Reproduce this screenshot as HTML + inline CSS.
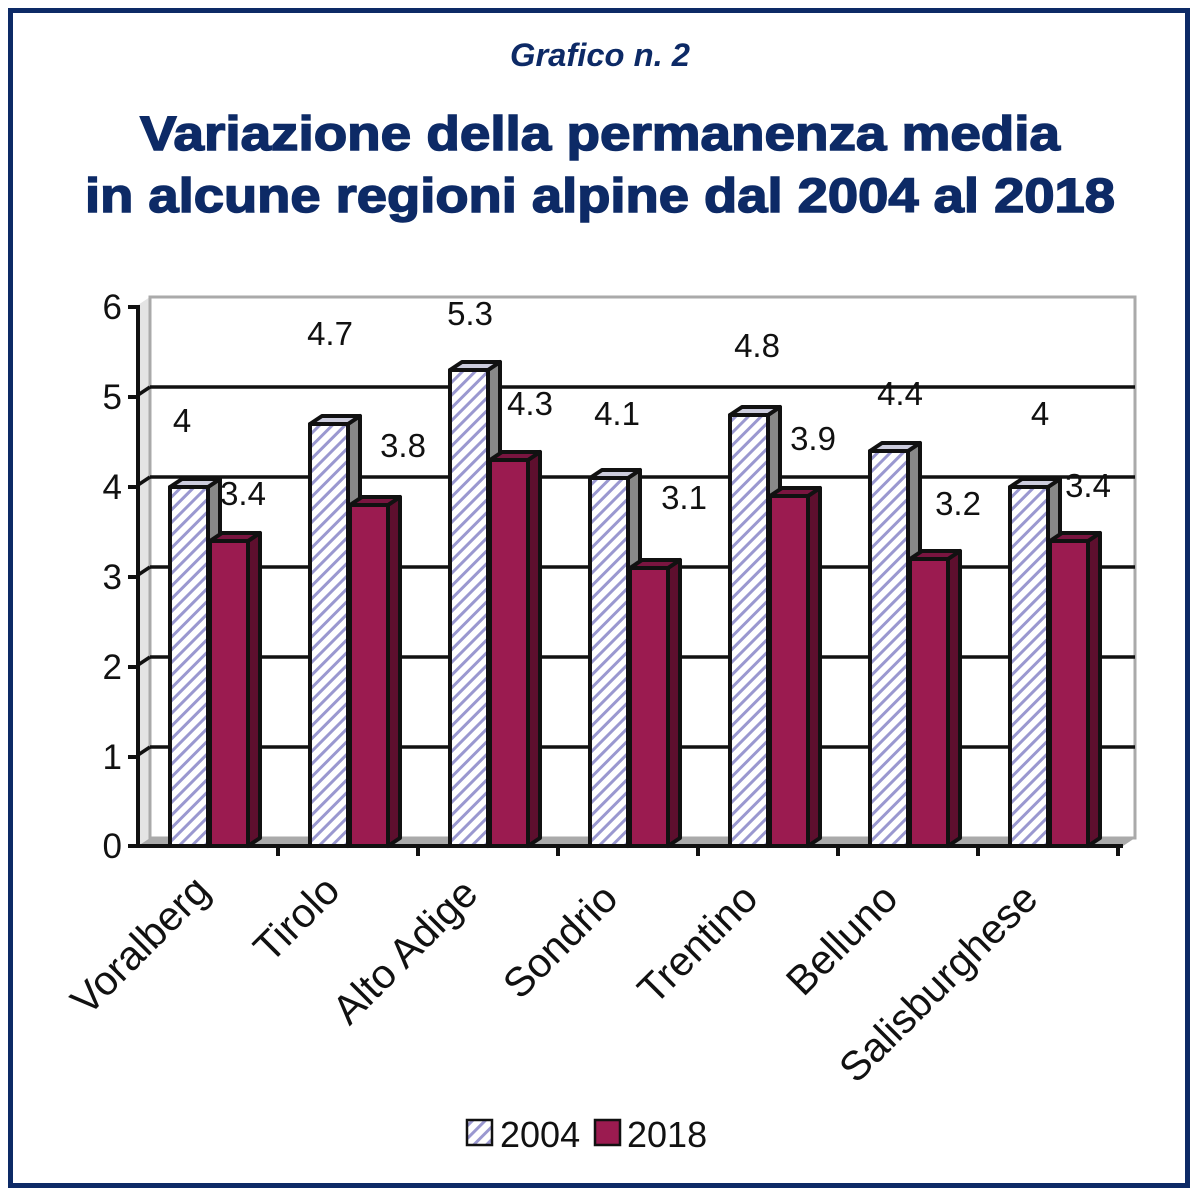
<!DOCTYPE html>
<html><head><meta charset="utf-8"><style>html,body{margin:0;padding:0;background:#fff}svg{display:block}</style></head>
<body>
<svg width="1200" height="1197" viewBox="0 0 1200 1197" xmlns="http://www.w3.org/2000/svg" font-family="Liberation Sans, sans-serif">
<defs>
<pattern id="p" width="9" height="9" patternUnits="userSpaceOnUse" patternTransform="rotate(45)">
<rect width="9" height="9" fill="#fff"/>
<rect x="0" y="0" width="3" height="9" fill="#9a98d0"/>
</pattern>
</defs>
<rect x="10.5" y="10.5" width="1177" height="1175" fill="#fff" stroke="#0d2a66" stroke-width="5"/>
<text x="600" y="66" text-anchor="middle" font-size="32" font-weight="bold" font-style="italic" fill="#0d2a66" textLength="180" lengthAdjust="spacingAndGlyphs">Grafico n. 2</text>
<g fill="#0d2a66" stroke="#0d2a66" stroke-width="1.5">
<text x="600" y="150" text-anchor="middle" font-size="48" font-weight="bold" textLength="920" lengthAdjust="spacingAndGlyphs">Variazione della permanenza media</text>
<text x="600" y="212" text-anchor="middle" font-size="48" font-weight="bold" textLength="1030" lengthAdjust="spacingAndGlyphs">in alcune regioni alpine dal 2004 al 2018</text>
</g>
<polygon points="138,846 150,838 150,297 138,305" fill="#e4e4e4"/>
<rect x="150" y="297" width="985" height="541" fill="#fff" stroke="#aaa" stroke-width="3"/>
<polygon points="138,846 150,838 1135,838 1123,846" fill="#aaa"/>
<g stroke="#111" stroke-width="3.5">
<line x1="150" y1="387" x2="1135" y2="387"/>
<line x1="150" y1="477" x2="1135" y2="477"/>
<line x1="150" y1="567" x2="1135" y2="567"/>
<line x1="150" y1="657" x2="1135" y2="657"/>
<line x1="150" y1="747" x2="1135" y2="747"/>
<line x1="138" y1="395" x2="150" y2="387"/>
<line x1="138" y1="485" x2="150" y2="477"/>
<line x1="138" y1="575" x2="150" y2="567"/>
<line x1="138" y1="665" x2="150" y2="657"/>
<line x1="138" y1="755" x2="150" y2="747"/>
</g>
<g stroke="#111" stroke-width="4" stroke-linejoin="round">
<g transform="translate(170,0)"><polygon points="38,487 50,479 50,838 38,846" fill="#888"/><polygon points="0,487 12,479 50,479 38,487" fill="#ccd"/><rect x="0" y="487" width="38" height="359" fill="url(#p)"/></g>
<g transform="translate(210,0)"><polygon points="38,541 50,533 50,838 38,846" fill="#5e0f2e"/><polygon points="0,541 12,533 50,533 38,541" fill="#7a1540"/><rect x="0" y="541" width="38" height="305" fill="#9b1b50"/></g>
<g transform="translate(310,0)"><polygon points="38,424 50,416 50,838 38,846" fill="#888"/><polygon points="0,424 12,416 50,416 38,424" fill="#ccd"/><rect x="0" y="424" width="38" height="422" fill="url(#p)"/></g>
<g transform="translate(350,0)"><polygon points="38,505 50,497 50,838 38,846" fill="#5e0f2e"/><polygon points="0,505 12,497 50,497 38,505" fill="#7a1540"/><rect x="0" y="505" width="38" height="341" fill="#9b1b50"/></g>
<g transform="translate(450,0)"><polygon points="38,370 50,362 50,838 38,846" fill="#888"/><polygon points="0,370 12,362 50,362 38,370" fill="#ccd"/><rect x="0" y="370" width="38" height="476" fill="url(#p)"/></g>
<g transform="translate(490,0)"><polygon points="38,460 50,452 50,838 38,846" fill="#5e0f2e"/><polygon points="0,460 12,452 50,452 38,460" fill="#7a1540"/><rect x="0" y="460" width="38" height="386" fill="#9b1b50"/></g>
<g transform="translate(590,0)"><polygon points="38,478 50,470 50,838 38,846" fill="#888"/><polygon points="0,478 12,470 50,470 38,478" fill="#ccd"/><rect x="0" y="478" width="38" height="368" fill="url(#p)"/></g>
<g transform="translate(630,0)"><polygon points="38,568 50,560 50,838 38,846" fill="#5e0f2e"/><polygon points="0,568 12,560 50,560 38,568" fill="#7a1540"/><rect x="0" y="568" width="38" height="278" fill="#9b1b50"/></g>
<g transform="translate(730,0)"><polygon points="38,415 50,407 50,838 38,846" fill="#888"/><polygon points="0,415 12,407 50,407 38,415" fill="#ccd"/><rect x="0" y="415" width="38" height="431" fill="url(#p)"/></g>
<g transform="translate(770,0)"><polygon points="38,496 50,488 50,838 38,846" fill="#5e0f2e"/><polygon points="0,496 12,488 50,488 38,496" fill="#7a1540"/><rect x="0" y="496" width="38" height="350" fill="#9b1b50"/></g>
<g transform="translate(870,0)"><polygon points="38,451 50,443 50,838 38,846" fill="#888"/><polygon points="0,451 12,443 50,443 38,451" fill="#ccd"/><rect x="0" y="451" width="38" height="395" fill="url(#p)"/></g>
<g transform="translate(910,0)"><polygon points="38,559 50,551 50,838 38,846" fill="#5e0f2e"/><polygon points="0,559 12,551 50,551 38,559" fill="#7a1540"/><rect x="0" y="559" width="38" height="287" fill="#9b1b50"/></g>
<g transform="translate(1010,0)"><polygon points="38,487 50,479 50,838 38,846" fill="#888"/><polygon points="0,487 12,479 50,479 38,487" fill="#ccd"/><rect x="0" y="487" width="38" height="359" fill="url(#p)"/></g>
<g transform="translate(1050,0)"><polygon points="38,541 50,533 50,838 38,846" fill="#5e0f2e"/><polygon points="0,541 12,533 50,533 38,541" fill="#7a1540"/><rect x="0" y="541" width="38" height="305" fill="#9b1b50"/></g>
</g>
<g stroke="#111" stroke-width="4">
<line x1="138" y1="305" x2="138" y2="848"/>
<line x1="136" y1="846" x2="1123" y2="846"/>
<line x1="128" y1="307" x2="138" y2="307"/>
<line x1="128" y1="397" x2="138" y2="397"/>
<line x1="128" y1="487" x2="138" y2="487"/>
<line x1="128" y1="577" x2="138" y2="577"/>
<line x1="128" y1="667" x2="138" y2="667"/>
<line x1="128" y1="757" x2="138" y2="757"/>
<line x1="128" y1="846" x2="138" y2="846"/>
<line x1="278" y1="846" x2="278" y2="856"/><line x1="418" y1="846" x2="418" y2="856"/>
<line x1="558" y1="846" x2="558" y2="856"/><line x1="698" y1="846" x2="698" y2="856"/>
<line x1="838" y1="846" x2="838" y2="856"/><line x1="978" y1="846" x2="978" y2="856"/>
<line x1="1118" y1="846" x2="1118" y2="856"/>
</g>
<g font-size="35" fill="#111" text-anchor="end">
<text x="122" y="319">6</text><text x="122" y="409">5</text><text x="122" y="499">4</text>
<text x="122" y="589">3</text><text x="122" y="679">2</text><text x="122" y="769">1</text><text x="122" y="858">0</text>
</g>
<g font-size="33" fill="#111" text-anchor="middle">
<text x="182" y="432">4</text><text x="243" y="505">3.4</text>
<text x="330" y="345">4.7</text><text x="403" y="457">3.8</text>
<text x="470" y="325">5.3</text><text x="530" y="415">4.3</text>
<text x="617" y="425">4.1</text><text x="684" y="509">3.1</text>
<text x="757" y="357">4.8</text><text x="813" y="450">3.9</text>
<text x="900" y="405">4.4</text><text x="958" y="515">3.2</text>
<text x="1040" y="425">4</text><text x="1088" y="497">3.4</text>
</g>
<g font-size="41" fill="#111" text-anchor="end">
<text transform="translate(212,893) rotate(-45)">Voralberg</text>
<text transform="translate(342,893) rotate(-45)">Tirolo</text>
<text transform="translate(480,896) rotate(-45)">Alto Adige</text>
<text transform="translate(620,901) rotate(-45)">Sondrio</text>
<text transform="translate(760,901) rotate(-45)">Trentino</text>
<text transform="translate(900,901) rotate(-45)">Belluno</text>
<text transform="translate(1040,901) rotate(-45)">Salisburghese</text>
</g>
<rect x="467" y="1120" width="25" height="25" fill="url(#p)" stroke="#111" stroke-width="2.5"/>
<text x="500" y="1147" font-size="36" fill="#111">2004</text>
<rect x="595" y="1120" width="25" height="25" fill="#9b1b50" stroke="#111" stroke-width="2.5"/>
<text x="627" y="1147" font-size="36" fill="#111">2018</text>
</svg>
</body></html>
